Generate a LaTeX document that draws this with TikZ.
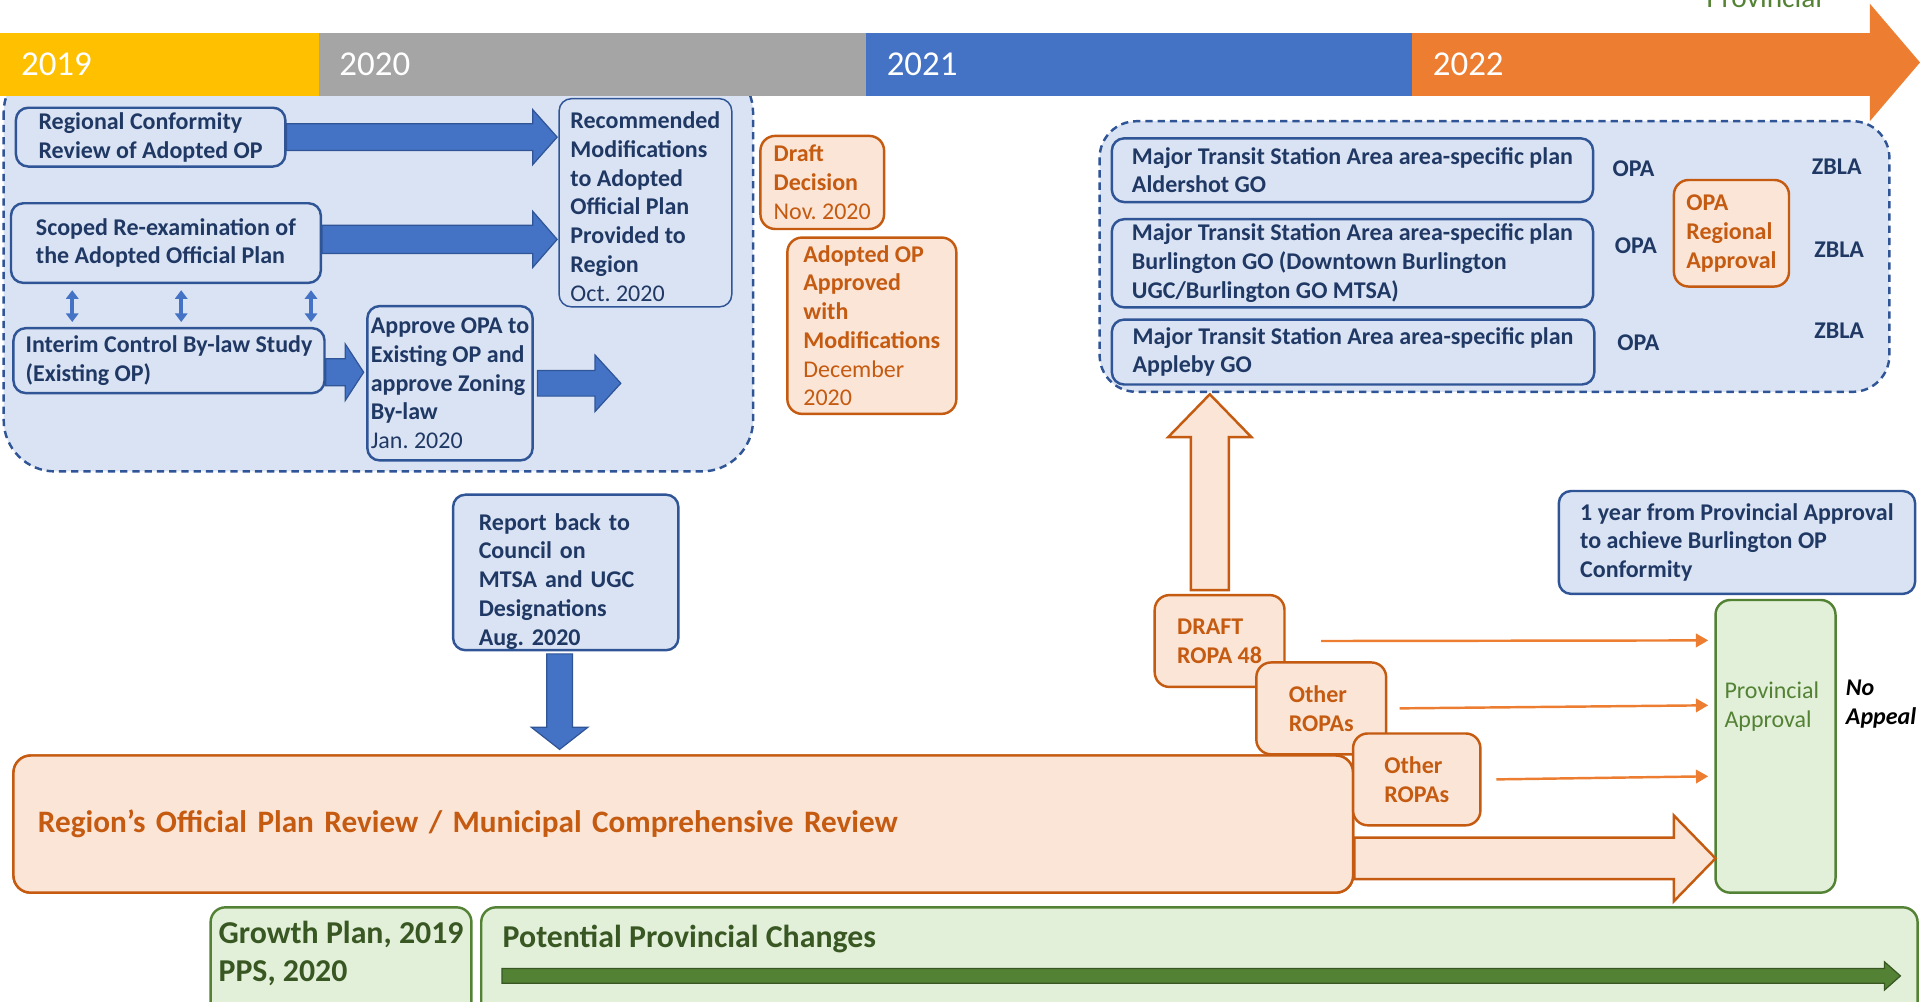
\documentclass[tikz,border=0pt]{standalone}
\usepackage{fontspec}
\setmainfont{Carlito}
\usetikzlibrary{arrows.meta}
\definecolor{cYel}{HTML}{FFC000}
\definecolor{cGray}{HTML}{A5A5A5}
\definecolor{cBlue}{HTML}{4472C4}
\definecolor{cOrange}{HTML}{ED7D31}
\definecolor{cNavy}{HTML}{1F3864}
\definecolor{cBlueLine}{HTML}{2F5597}
\definecolor{cBlueFill}{HTML}{DAE3F3}
\definecolor{cOrText}{HTML}{C55A11}
\definecolor{cOrFill}{HTML}{FBE5D6}
\definecolor{cGreen}{HTML}{548235}
\definecolor{cDkGreen}{HTML}{385723}
\definecolor{cGrFill}{HTML}{E2F0D9}
\frenchspacing
\begin{document}
\begin{tikzpicture}[x=1pt,y=-1pt,
  pics/rarrow/.style n args={4}{code={\path[pic actions] (0,-#2) -- ({#1-#4},-#2) -- ({#1-#4},-#3) -- (#1,0) -- ({#1-#4},#3) -- ({#1-#4},#2) -- (0,#2) -- cycle;}},
  base/.style={anchor=north west, align=left, inner sep=0pt, font=\fontsize{19.6}{23.5}\selectfont\bfseries\frenchspacing},
  bbox/.style={base, draw=cBlueLine, fill=cBlueFill, line width=2pt, rounded corners=10pt, text=cNavy},
  obox/.style={base, draw=cOrText, fill=cOrFill, line width=2pt, rounded corners=12pt, text=cOrText},
  gbox/.style={base, draw=cGreen, fill=cGrFill, line width=2pt, rounded corners=12pt},
  grp/.style={draw=cBlueLine, fill=cBlueFill, line width=2pt, dash pattern=on 6pt off 4pt},
  yearbar/.style={anchor=north west, minimum height=51, inner xsep=17pt, inner ysep=0pt, text=white, font=\fontsize{28.5}{28.5}\selectfont, align=left},
  barrow/.style={draw=cBlueLine, fill=cBlue, line width=1pt},
  oarrow/.style={draw=cOrText, fill=cOrFill, line width=2pt},
  garr/.style={draw=cDkGreen, fill=cGreen, line width=1pt},
  othin/.style={draw=cOrange, line width=2pt, -{Triangle[width=11pt,length=10pt]}},
  dbl/.style={draw=cBlue, line width=3pt, {Triangle[width=10pt,length=7pt]}-{Triangle[width=10pt,length=7pt]}},
  lbl/.style={text=cNavy, font=\fontsize{19.6}{23.5}\selectfont\bfseries},
  regionbox/.style={base, draw=cOrText, fill=cOrFill, line width=2pt, rounded corners=14pt, text=cOrText, minimum height=112, text width=1054, inner xsep=20pt, font=\fontsize{25.5}{30}\selectfont\bfseries}
]
\useasboundingbox (0,0) rectangle (1568,818);

% dashed groups
\draw[grp, rounded corners=42pt] (3,50) rectangle (615,385);
\draw[grp, rounded corners=30pt] (898,99) rectangle (1543,320);

% timeline
\node[yearbar, fill=cYel, text width=226] (y19) at (0,27) {2019};
\node[yearbar, fill=cGray, text width=413] (y20) at (260,27) {2020};
\node[yearbar, fill=cBlue, text width=412] (y21) at (707,27) {2021};
\node[yearbar, fill=cOrange, text width=342] (y22) at (1153,27) {2022};
\fill[cOrange] (1527,3) -- (1568,51) -- (1527,99) -- cycle;
\node[anchor=base west, text=cGreen, font=\fontsize{24}{24}\selectfont] (provtop) at (1390,6) {Provincial};

% left group boxes
\node[bbox, minimum width=220, minimum height=48] (rco) at (12,87) {Regional Conformity\\Review of Adopted OP};
\node[bbox, minimum width=253, minimum height=65] (scoped) at (8,165) {Scoped Re-examination of\\the Adopted Official Plan};
\node[bbox, minimum width=254, minimum height=53] (interim) at (10,267) {Interim Control By-law Study\\(Existing OP)};
\node[bbox, minimum width=135, minimum height=126] (approve) at (299,249) {Approve OPA to\\Existing OP and\\approve Zoning\\By-law\\\mdseries Jan. 2020};
\node[bbox, line width=1.2pt, minimum width=141, minimum height=170] (recom) at (456,80) {\rule{0pt}{20pt}Recommended\\Modifications\\to Adopted\\Official Plan\\Provided to\\Region\\\mdseries Oct. 2020};

\pic[barrow] at (rco.east) {rarrow={221}{11}{22.5}{20}};
\pic[barrow] at ([yshift=3pt]scoped.east) {rarrow={192}{11.5}{23}{20}};
\pic[barrow] at ([yshift=-9.5pt]interim.east) {rarrow={31}{11}{23}{15}};
\pic[barrow] at ([xshift=3pt]approve.east) {rarrow={68}{10.5}{23}{21}};

\draw[dbl] ([xshift=51pt,yshift=-5pt]scoped.south west) -- ([xshift=49pt,yshift=4pt]interim.north west);
\draw[dbl] ([xshift=140pt,yshift=-5pt]scoped.south west) -- ([xshift=138pt,yshift=4pt]interim.north west);
\draw[dbl] ([xshift=246pt,yshift=-5pt]scoped.south west) -- ([xshift=244pt,yshift=4pt]interim.north west);

% orange decisions
\node[obox, minimum width=101, minimum height=76] (draftdec) at (620,110) {Draft\\Decision\\\mdseries Nov. 2020};
\node[obox, minimum width=138, minimum height=144] (adopted) at (642,193) {Adopted OP\\Approved\\with\\Modifications\\\mdseries December\\\mdseries 2020};

% right group
\node[bbox, minimum width=393, minimum height=52] (mtsa1) at (907,112) {Major Transit Station Area area-specific plan\\Aldershot GO};
\node[bbox, minimum width=393, minimum height=72] (mtsa2) at (907,178) {Major Transit Station Area area-specific plan\\Burlington GO (Downtown Burlington\\UGC/Burlington GO MTSA)};
\node[bbox, minimum width=394, minimum height=53] (mtsa3) at (907,260) {Major Transit Station Area area-specific plan\\Appleby GO};
\node[lbl] (opa1) at (1334,138) {OPA};
\node[lbl] (opa2) at (1336,201) {OPA};
\node[lbl] (opa3) at (1338,280) {OPA};
\node[lbl] (zbla1) at (1500,136) {ZBLA};
\node[lbl] (zbla2) at (1502,204) {ZBLA};
\node[lbl] (zbla3) at (1502,270) {ZBLA};
\node[obox, minimum width=94, minimum height=87] (opareg) at (1366,146) {OPA\\Regional\\Approval};

% report back
\node[bbox, minimum width=184, minimum height=127, text width=142] (report) at (369,403) {\rule{0pt}{28pt}Report back to\\Council on\\MTSA and UGC\\Designations\\Aug. 2020};
\pic[barrow, rotate=-90] at ([xshift=-5pt,yshift=-2pt]report.south) {rarrow={78}{10.5}{23}{18}};

% one year
\node[bbox, minimum width=291, minimum height=84] (oneyear) at (1272,400) {1 year from Provincial Approval\\to achieve Burlington OP\\Conformity};

% provincial approval
\node[gbox, minimum width=98, minimum height=239] (prov) at (1400,489) {};
\node[align=left, text=cGreen, font=\fontsize{19.6}{23.5}\selectfont] (provlbl) at (1447,577) {Provincial\\Approval};
\node[anchor=west, align=left, font=\fontsize{19.6}{23}\selectfont\bfseries\itshape] (noap) at (1504,575) {No\\Appeal};

% region review + arrow
\node[regionbox] (region) at (10,616) {Region’s Official Plan Review / Municipal Comprehensive Review};
\pic[oarrow] at ([yshift=-28pt]region.east) {rarrow={295}{17}{35}{34}};
\node[regionbox] at (10,616) {Region’s Official Plan Review / Municipal Comprehensive Review};

% up arrow and ROPAs
\pic[oarrow, rotate=90] at (988,482) {rarrow={160}{15.5}{34}{35}};
\node[obox, minimum width=106, minimum height=75] (draft48) at (942,485) {DRAFT\\ROPA 48};
\node[obox, minimum width=106, minimum height=75] (other1) at (1025,540) {Other\\ROPAs};
\node[obox, minimum width=104, minimum height=75] (other2) at (1104,598) {Other\\ROPAs};

\draw[othin] ([xshift=29pt]draft48.east) -- ([xshift=-5pt,yshift=86.5pt]prov.west);
\draw[othin] ([xshift=10pt]other1.east) -- ([xshift=-5pt,yshift=33.5pt]prov.west);
\draw[othin] ([xshift=12pt]other2.east) -- ([xshift=-5pt,yshift=-24.5pt]prov.west);

% bottom green boxes
\node[gbox, minimum width=213, minimum height=90] (growth) at (171,740) {};
\node[anchor=west, align=left, text=cDkGreen, font=\fontsize{26}{31}\selectfont\bfseries] (growthlbl) at (175,779) {Growth Plan, 2019\\PPS, 2020};
\node[gbox, minimum width=1173, minimum height=90] (ppc) at (392,740) {};
\node[anchor=west, text=cDkGreen, font=\fontsize{26}{31}\selectfont\bfseries] (ppclbl) at (407,767) {Potential Provincial Changes};
\pic[garr] at ([xshift=18pt,yshift=-57pt]ppc.north west) {rarrow={1142}{6}{11.5}{13}};
\end{tikzpicture}
\end{document}
